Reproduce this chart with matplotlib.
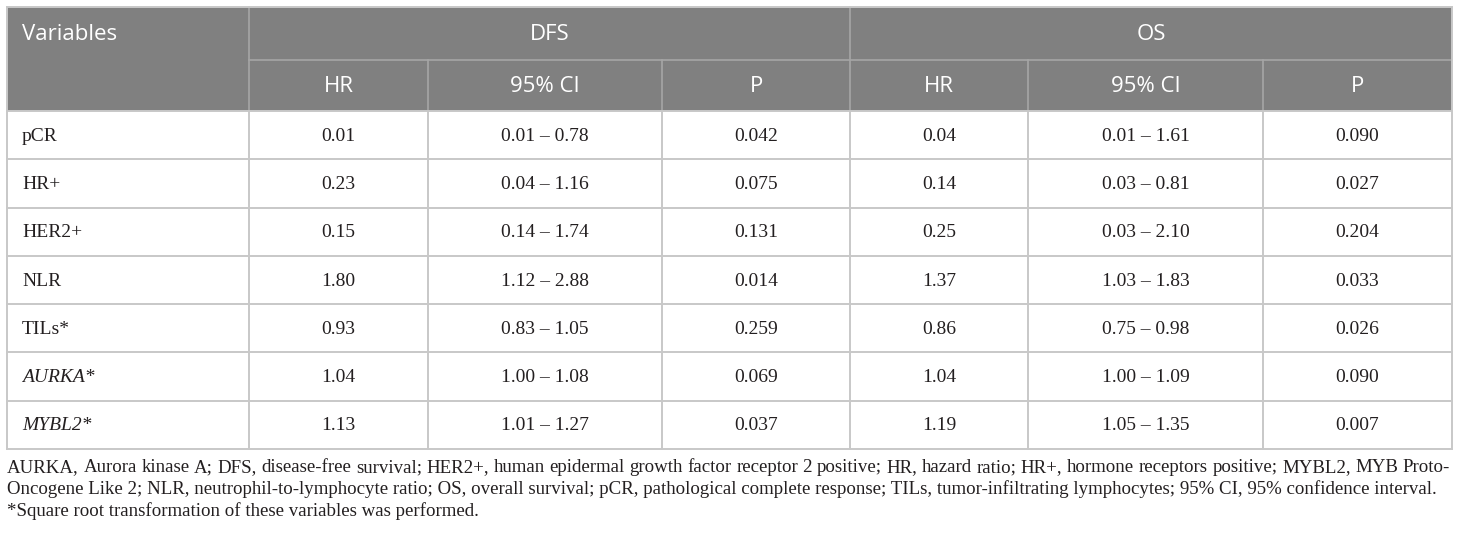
import matplotlib
matplotlib.use("Agg")
import matplotlib.pyplot as plt
from matplotlib.patches import Rectangle

# table contents
variables = ["pCR", "HR+", "HER2+", "NLR", "TILs*", "AURKA*", "MYBL2*"]
italic_rows = ["AURKA*", "MYBL2*"]
dfs_hr = ["0.01", "0.23", "0.15", "1.80", "0.93", "1.04", "1.13"]
dfs_ci = ["0.01 \u2013 0.78", "0.04 \u2013 1.16", "0.14 \u2013 1.74", "1.12 \u2013 2.88",
          "0.83 \u2013 1.05", "1.00 \u2013 1.08", "1.01 \u2013 1.27"]
dfs_p = ["0.042", "0.075", "0.131", "0.014", "0.259", "0.069", "0.037"]
os_hr = ["0.04", "0.14", "0.25", "1.37", "0.86", "1.04", "1.19"]
os_ci = ["0.01 \u2013 1.61", "0.03 \u2013 0.81", "0.03 \u2013 2.10", "1.03 \u2013 1.83",
         "0.75 \u2013 0.98", "1.00 \u2013 1.09", "1.05 \u2013 1.35"]
os_p = ["0.090", "0.027", "0.204", "0.033", "0.026", "0.090", "0.007"]
group_labels = ["DFS", "OS"]
sub_labels = ["HR", "95% CI", "P"]
footnotes = [
    "AURKA, Aurora kinase A; DFS, disease-free survival; HER2+, human epidermal growth factor receptor 2 positive; HR, hazard ratio; HR+, hormone receptors positive; MYBL2, MYB Proto-",
    "Oncogene Like 2; NLR, neutrophil-to-lymphocyte ratio; OS, overall survival; pCR, pathological complete response; TILs, tumor-infiltrating lymphocytes; 95% CI, 95% confidence interval.",
    "*Square root transformation of these variables was performed.",
]
justified = [True, False, False]

W, H = 1460, 536
fig = plt.figure(figsize=(W / 100, H / 100), dpi=100)
ax = fig.add_axes([0, 0, 1, 1])
ax.set_xlim(0, W)
ax.set_ylim(H, 0)
ax.axis("off")

col_x = [7, 249, 428, 662, 850, 1028, 1263, 1452]
top, h1, h2 = 7, 60, 111
row_h = (449 - h2) / len(variables)
bottom = h2 + row_h * len(variables)

head_bg = "#808080"
head_line = "#a6a6a6"
grid = "#c8c8c8"
ink = "#231f20"
sans = "Open Sans"
serif = "Liberation Serif"

# header block
ax.add_patch(Rectangle((col_x[0], top), col_x[-1] - col_x[0], h2 - top,
                       facecolor=head_bg, edgecolor="none"))
ax.plot([col_x[1], col_x[1]], [top, h2], color=head_line, lw=1.2)
ax.plot([col_x[4], col_x[4]], [top, h2], color=head_line, lw=1.2)
ax.plot([col_x[1], col_x[-1]], [h1, h1], color=head_line, lw=1.2)
for x in [col_x[2], col_x[3], col_x[5], col_x[6]]:
    ax.plot([x, x], [h1, h2], color=head_line, lw=1.2)

ax.text(22, (top + h1) / 2 + 1, "Variables", color="white", fontsize=16,
        family=sans, va="center", ha="left")
for g, label in enumerate(group_labels):
    cx = (col_x[1 + 3 * g] + col_x[4 + 3 * g]) / 2
    ax.text(cx, (top + h1) / 2 + 1, label, color="white", fontsize=16,
            family=sans, va="center", ha="center")
    for k, sub in enumerate(sub_labels):
        c = 1 + 3 * g + k
        ax.text((col_x[c] + col_x[c + 1]) / 2, (h1 + h2) / 2 + 1, sub, color="white",
                fontsize=16, family=sans, va="center", ha="center")

# body grid
for i in range(len(variables) + 1):
    y = h2 + i * row_h
    ax.plot([col_x[0], col_x[-1]], [y, y], color=grid, lw=1.4)
for x in col_x:
    ax.plot([x, x], [h2, bottom], color=grid, lw=1.4)
ax.plot([col_x[0], col_x[0]], [top, h2], color=grid, lw=1.4)
ax.plot([col_x[-1], col_x[-1]], [top, h2], color=grid, lw=1.4)
ax.plot([col_x[0], col_x[-1]], [top, top], color=grid, lw=1.4)

columns = [dfs_hr, dfs_ci, dfs_p, os_hr, os_ci, os_p]
for i, var in enumerate(variables):
    cy = h2 + (i + 0.5) * row_h + 1
    style = "italic" if var in italic_rows else "normal"
    ax.text(22, cy, var, fontsize=14, family=serif, style=style,
            color=ink, va="center", ha="left")
    for c, col in enumerate(columns):
        cx = (col_x[c + 1] + col_x[c + 2]) / 2
        ax.text(cx, cy, col[i], fontsize=14, family=serif, color=ink,
                va="center", ha="center")

# footnotes (first line justified to the table width)
renderer = fig.canvas.get_renderer()
left, right = 7, 1450
for j, line in enumerate(footnotes):
    y = 468 + j * 21.5
    if not justified[j]:
        ax.text(left, y, line, fontsize=13.6, family=serif, color=ink,
                va="center", ha="left")
        continue
    words = line.split(" ")
    texts = [ax.text(0, y, w, fontsize=13.6, family=serif, color=ink,
                     va="center", ha="left") for w in words]
    widths = [t.get_window_extent(renderer).width for t in texts]
    gap = (right - left - sum(widths)) / (len(words) - 1)
    x = left
    for t, w in zip(texts, widths):
        t.set_x(x)
        x += w + gap

fig.savefig("out.png", dpi=100)
